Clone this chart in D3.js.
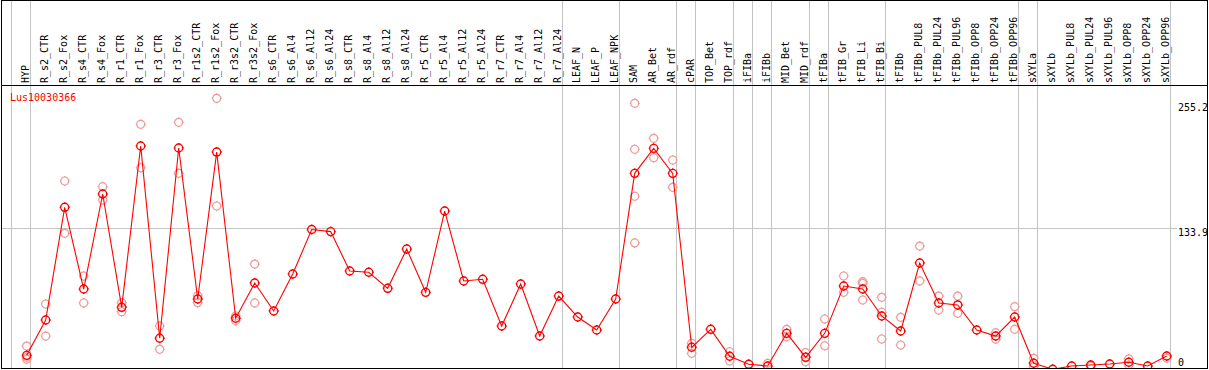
<!DOCTYPE html>
<html>
<head>
<meta charset="utf-8">
<script src="https://cdn.jsdelivr.net/npm/d3@7"></script>
<style>
body { margin:0; background:#fff; }
text { font-family: "DejaVu Sans Mono", monospace; font-size:10px; }
</style>
</head>
<body>
<div class="canvas"></div>
<script>
const gene = 'Lus10030366';

const categories = ['HYP','R_s2_CTR','R_s2_Fox','R_s4_CTR','R_s4_Fox','R_r1_CTR','R_r1_Fox','R_r3_CTR','R_r3_Fox',
  'R_r1s2_CTR','R_r1s2_Fox','R_r3s2_CTR','R_r3s2_Fox','R_s6_CTR','R_s6_Al4','R_s6_Al12','R_s6_Al24',
  'R_s8_CTR','R_s8_Al4','R_s8_Al12','R_s8_Al24','R_r5_CTR','R_r5_Al4','R_r5_Al12','R_r5_Al24',
  'R_r7_CTR','R_r7_Al4','R_r7_Al12','R_r7_Al24','LEAF_N','LEAF_P','LEAF_NPK','SAM','AR_Bet','AR_rdf',
  'cPAR','TOP_Bet','TOP_rdf','iFIBa','iFIBb','MID_Bet','MID_rdf','tFIBa','tFIB_Gr','tFIB_Li','tFIB_Bi',
  'tFIBb','tFIBb_PUL8','tFIBb_PUL24','tFIBb_PUL96','tFIBb_OPP8','tFIBb_OPP24','tFIBb_OPP96',
  'sXYLa','sXYLb','sXYLb_PUL8','sXYLb_PUL24','sXYLb_PUL96','sXYLb_OPP8','sXYLb_OPP24','sXYLb_OPP96'];

// mean expression
const means = [10.9,45.1,154.2,75.1,167.1,57.4,213.6,27.4,211.6,
  65.4,207.7,46.8,80.9,53.8,89.6,132.7,130.7,
  92.6,91.3,75.8,113.8,71.9,150.6,82.9,84.5,
  39.3,80.0,29.6,68.3,48.0,35.4,65.4,187.1,211.3,187.1,
  18.7,36.1,10.0,2.3,0.6,32.2,9.0,32.2,78.0,75.1,49.0,
  34.5,100.3,61.6,59.7,35.4,29.6,48.0,
  3.2,-2.6,0.6,1.5,2.5,4.2,0.6,10.3];

// individual replicates (only the ones visible apart from the mean)
const replicates = [[19.9,7.1,9.0],[60.6,29.6],[179.7,129.0],[87.7,61.6],[174.2,161.3],[61.9,53.1],[234.6,192.5],[39.3,16.7],[236.5,187.1],
  [68.6,61.9],[259.7,155.5],[49.0,44.4],[99.3,61.6],[],[],[],[],
  [],[],[],[],[],[],[],[],
  [],[],[],[],[],[],[],[254.9,210.4,164.9,119.7],[221.0,202.2],[200.0,173.6],
  [22.6,12.9],[],[14.4,5.4],[],[3.2],[36.1,28.9],[13.5,4.7],[46.1,20.2],[87.7,71.9],[82.2,80.6,64.5],[67.1,52.6,26.7],
  [47.7,20.9],[116.7,82.9],[68.3,54.8],[68.3,51.6],[],[32.8,26.4],[58.0,36.1],
  [8.0,0.0],[],[],[0.5],[],[7.4,1.5],[],[8.3]];

// first category of each tissue group (gray separators)
const groupStarts = ['HYP','R_s2_CTR','LEAF_N','SAM','cPAR','TOP_Bet','iFIBa','iFIBb','MID_Bet','tFIBa','tFIB_Gr','tFIBb','sXYLa','sXYLb'];
const yTicks = [0, 133.9, 255.2];

const width = 1209, height = 370;
const headerY = 85;

const svg = d3.select('.canvas')
  .append('svg')
    .attr('width', width)
    .attr('height', height);

const x = d3.scaleBand()
  .domain(categories)
  .range([11, 11 + categories.length * 19])
  .padding(0);

const y = d3.scaleLinear()
  .domain([0, 255.2])
  .range([366.6, 103]);

const cx = d => x(d) + 15.7;

svg.append('clipPath').attr('id', 'plot')
  .append('rect').attr('x', 2).attr('y', headerY + 1).attr('width', 1204).attr('height', 368 - headerY - 1);

// grid
const grid = svg.append('g').attr('stroke', '#c4c4c4').attr('shape-rendering', 'crispEdges');
grid.selectAll('line.v')
  .data(groupStarts.map(c => x(c)).concat([x.range()[1]]))
  .enter().append('line')
    .attr('x1', d => Math.round(d) + 0.5).attr('x2', d => Math.round(d) + 0.5)
    .attr('y1', 1).attr('y2', 368);
grid.append('line')
  .attr('x1', 2).attr('x2', 1177)
  .attr('y1', Math.round(y(133.9)) + 0.5).attr('y2', Math.round(y(133.9)) + 0.5);

// header labels
svg.append('g').selectAll('text')
  .data(categories)
  .enter().append('text')
    .attr('transform', d => `translate(${x(d) + 18},83) rotate(-90)`)
    .attr('fill', '#000')
    .text(d => d);

// y tick labels
svg.append('g').selectAll('text')
  .data(yTicks)
  .enter().append('text')
    .attr('x', 1178)
    .attr('y', d => Math.min(y(d) + 7.5, 365.5))
    .attr('fill', '#000')
    .text(d => d);

svg.append('text')
  .attr('x', 10).attr('y', 101)
  .attr('fill', '#ff0000')
  .text(gene);

// marks
const plot = svg.append('g').attr('clip-path', 'url(#plot)');
const marker = 'M0,-5V-4M0,4V5M-5,0H-4M4,0H5';

const repData = [];
categories.forEach((c, i) => replicates[i].forEach(v => repData.push({c, v})));

const reps = plot.append('g').attr('stroke', '#ec9a9a').attr('fill', 'none').attr('stroke-width', 1.2);
const repG = reps.selectAll('g').data(repData).enter().append('g')
  .attr('transform', d => `translate(${cx(d.c)},${y(d.v)})`);
repG.append('circle').attr('r', 4);
repG.append('path').attr('d', marker);

const meanG = plot.append('g').attr('stroke', '#ff0000').attr('fill', 'none').attr('stroke-width', 1.4)
  .selectAll('g').data(categories).enter().append('g')
  .attr('transform', (d, i) => `translate(${cx(d)},${y(means[i])})`);
meanG.append('circle').attr('r', 4);
meanG.append('path').attr('d', marker);

const line = d3.line()
  .x(d => cx(d))
  .y((d, i) => y(means[i]));
plot.append('path')
  .datum(categories)
  .attr('fill', 'none')
  .attr('stroke', '#ff0000')
  .attr('stroke-width', 1.1)
  .attr('d', line);

// frame
const frame = svg.append('g').attr('stroke', '#000').attr('shape-rendering', 'crispEdges');
frame.append('rect').attr('x', 1.5).attr('y', 0.5).attr('width', 1206).attr('height', 368).attr('fill', 'none').attr('stroke-width', 1.5);
frame.append('line').attr('x1', 1).attr('x2', 1208).attr('y1', headerY + 0.5).attr('y2', headerY + 0.5).attr('stroke-width', 1.5);
</script>
</body>
</html>
